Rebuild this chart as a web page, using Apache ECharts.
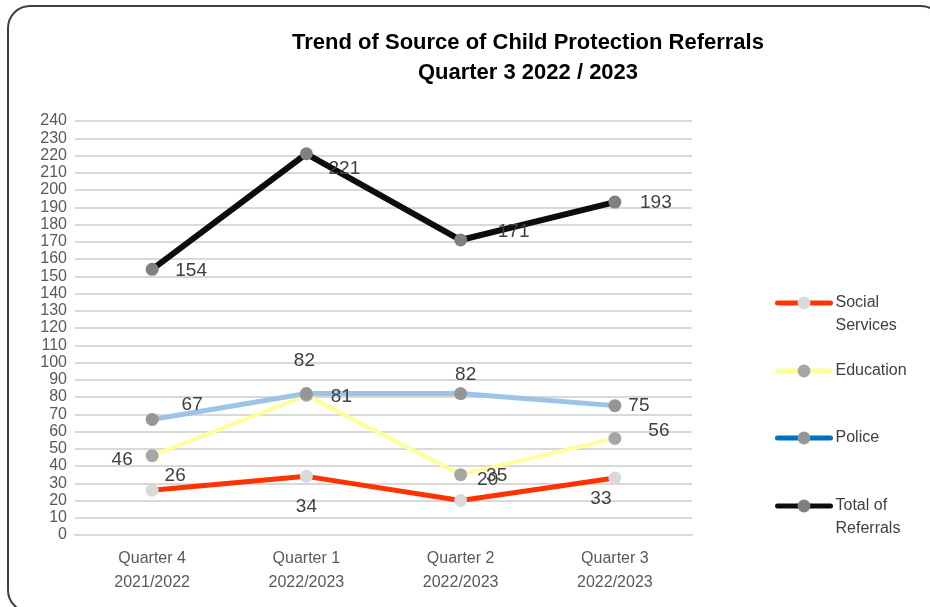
<!DOCTYPE html>
<html>
<head>
<meta charset="utf-8">
<script src="https://cdn.jsdelivr.net/npm/echarts@6/dist/echarts.min.js"></script>
<style>
html,body{margin:0;padding:0;background:#fff;}
#chart{width:930px;height:607px;}
</style>
</head>
<body>
<div id="chart"></div>
<script>
var categories = ['Quarter 4\n2021/2022', 'Quarter 1\n2022/2023', 'Quarter 2\n2022/2023', 'Quarter 3\n2022/2023'];
var socialServices = [26, 34, 20, 33];
var education = [46, 81, 35, 56];
var police = [67, 82, 82, 75];
var totalReferrals = [154, 221, 171, 193];
var yTicks = {min: 0, max: 240, interval: 10};

var FONT = '"Liberation Sans", Arial, sans-serif';

function withLabels(values, offsets) {
  return values.map(function (v, i) {
    return {value: v, label: {offset: offsets[i]}};
  });
}

var labelBase = {
  show: true, position: 'inside', color: '#404040',
  fontFamily: FONT, fontSize: 19
};

var chart = echarts.init(document.getElementById('chart'));
var option = {
  backgroundColor: '#fff',
  animation: false,
  graphic: [{
    type: 'rect', shape: {x: 8, y: 6, width: 935, height: 606, r: 22},
    style: {fill: 'none', stroke: '#404040', lineWidth: 2}, z: 100
  }],
  title: {
    text: 'Trend of Source of Child Protection Referrals\nQuarter 3 2022 / 2023',
    left: 523, top: 23, textAlign: 'center',
    textStyle: {fontFamily: FONT, fontWeight: 'bold', fontSize: 22, lineHeight: 30, color: '#000'}
  },
  grid: {left: 75, right: 238, top: 121, bottom: 72},
  xAxis: {
    type: 'category', data: categories, boundaryGap: true,
    axisLine: {show: true, lineStyle: {color: '#d9d9d9', width: 2}},
    axisTick: {show: false},
    axisLabel: {color: '#595959', fontFamily: FONT, fontSize: 16, lineHeight: 24, margin: 12}
  },
  yAxis: {
    type: 'value', min: yTicks.min, max: yTicks.max, interval: yTicks.interval,
    axisLine: {show: false}, axisTick: {show: false},
    splitLine: {lineStyle: {color: '#d9d9d9', width: 2}},
    axisLabel: {color: '#595959', fontFamily: FONT, fontSize: 16, margin: 8,
      showMinLabel: true, showMaxLabel: true, hideOverlap: false}
  },
  legend: [
    {name: 'Social Services', top: 268.5, text: '\nSocial\nServices'},
    {name: 'Education', top: 359.5, text: 'Education'},
    {name: 'Police', top: 426.5, text: 'Police', line: '#0070C0'},
    {name: 'Total of Referrals', top: 471.5, text: '\nTotal of\nReferrals'}
  ].map(function (l) {
    var item = {name: l.name};
    if (l.line) item.lineStyle = {color: l.line, width: 5};
    return {
      data: [item], left: 775, top: l.top, padding: 0,
      itemWidth: 53, itemHeight: 16, orient: 'vertical',
      lineStyle: {width: 5, cap: 'round'},
      formatter: function () { return l.text; },
      textStyle: {color: '#404040', fontFamily: FONT, fontSize: 16, lineHeight: 23}
    };
  }),
  series: [
    {
      name: 'Social Services', type: 'line', data: withLabels(socialServices, [[23, -14], [0, 30], [27, -21], [-14, 21]]),
      symbol: 'circle', symbolSize: 13,
      lineStyle: {color: '#FF3300', width: 5}, itemStyle: {color: '#D9D9D9'},
      label: labelBase
    },
    {
      name: 'Education', type: 'line', data: withLabels(education, [[-30, 4], [35, 1], [36, 1], [44, -8]]),
      symbol: 'circle', symbolSize: 13,
      lineStyle: {color: '#FFFF99', width: 4}, itemStyle: {color: '#A6A6A6'},
      label: labelBase
    },
    {
      name: 'Police', type: 'line', data: withLabels(police, [[40, -15], [-2, -33], [5, -19], [24, 0]]),
      symbol: 'circle', symbolSize: 13,
      lineStyle: {color: '#9DC3E6', width: 5}, itemStyle: {color: '#969696'},
      label: labelBase
    },
    {
      name: 'Total of Referrals', type: 'line', data: withLabels(totalReferrals, [[39, 1], [38, 15], [53, -8], [41, 1]]),
      symbol: 'circle', symbolSize: 13,
      lineStyle: {color: '#0D0D0D', width: 6}, itemStyle: {color: '#808080'},
      label: labelBase
    }
  ]
};
chart.setOption(option);
</script>
</body>
</html>
